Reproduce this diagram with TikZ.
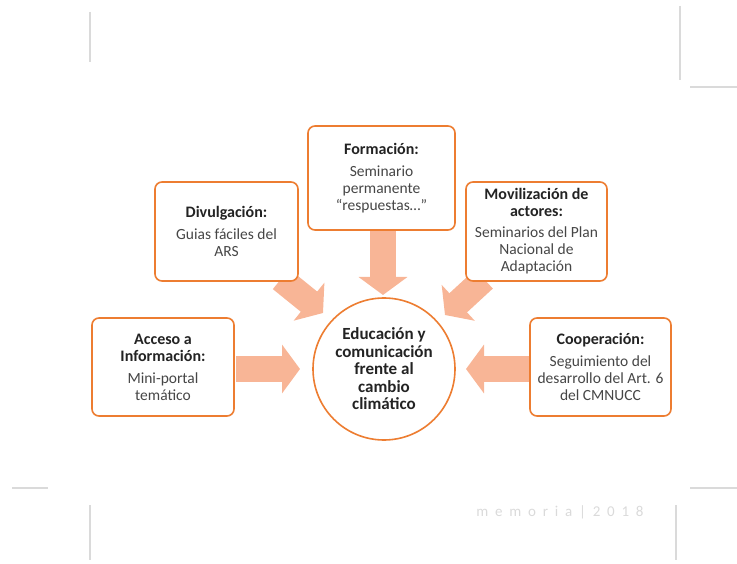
\documentclass[tikz,border=0pt]{standalone}
\usepackage{fontspec}
\setmainfont{Carlito}
\usetikzlibrary{arrows.meta}
\definecolor{boxorange}{RGB}{237,125,49}
\definecolor{arrowsalmon}{RGB}{248,181,150}
\definecolor{titlecol}{RGB}{35,35,35}
\definecolor{bodycol}{RGB}{70,70,70}
\definecolor{ghost}{RGB}{218,218,218}
\tikzset{
  infobox/.style={draw=boxorange, line width=1.6pt, rounded corners=7pt, fill=white,
    align=center, inner sep=1pt, font=\fontsize{15.5}{17}\selectfont, text=bodycol},
  centercircle/.style={circle, draw=boxorange, line width=1.6pt, fill=white,
    minimum size=142pt, align=center, inner sep=0pt,
    font=\fontsize{17}{17.5}\selectfont\bfseries, text=titlecol},
  blockarrow/.style={draw=arrowsalmon, line width=26pt,
    -{Triangle[width=48pt,length=18pt]}},
  ghostline/.style={draw=ghost, line width=1.2pt},
}
\newcommand{\ttl}[1]{{\fontsize{16}{17}\selectfont\bfseries\color{titlecol}#1}}
\begin{document}
\begin{tikzpicture}[x=1pt,y=-1pt]
\useasboundingbox (0,0) rectangle (737,564);
% faint scan ghosts
\draw[ghostline] (90,12) -- (90,62);
\draw[ghostline] (680,6) -- (680,80);
\draw[ghostline] (690,87) -- (737,87);
\draw[ghostline] (12,488) -- (48,488);
\draw[ghostline] (690,488) -- (737,488);
\draw[ghostline] (90,505) -- (90,560);
\draw[ghostline] (676,505) -- (676,560);
\node[text=ghost, font=\fontsize{15}{17}\selectfont] (memo) at (560,512) {m\ \ e\ \ m\ \ o\ \ r\ \ i\ \ a\ \ |\ \ 2\ \ 0\ \ 1\ \ 8};

% block arrows (drawn first, boxes cover their tails)
\coordinate (dstart) at (281,279);
\coordinate (dend) at (323,313);
\coordinate (mstart) at (484,279);
\coordinate (mend) at (445,315);
\coordinate (fstart) at (383,229);
\coordinate (fend) at (383,295);
\coordinate (astart) at (236,369);
\coordinate (aend) at (300,369);
\coordinate (cstart) at (532,369);
\coordinate (cend) at (466,369);
\draw[blockarrow] (fstart) -- (fend);
\draw[blockarrow] (astart) -- (aend);
\draw[blockarrow] (cstart) -- (cend);
\draw[blockarrow] (dstart) -- (dend);
\draw[blockarrow] (mstart) -- (mend);

% boxes
\node[infobox, minimum width=147pt, minimum height=104pt] (form) at (381.5,178)
  {\ttl{Formación:}\\[5pt] Seminario\\ permanente\\ “respuestas…”};
\node[infobox, minimum width=143pt, minimum height=99pt] (div) at (226.5,231.5)
  {\ttl{Divulgación:}\\[5pt] Guias fáciles del\\ ARS};
\node[infobox, minimum width=141pt, minimum height=99pt] (mov) at (536.5,231.5)
  {\ttl{Movilización de}\\ \ttl{actores:}\\[4pt] Seminarios del Plan\\ Nacional de\\ Adaptación};
\node[infobox, minimum width=142pt, minimum height=98pt] (acc) at (163,367)
  {\ttl{Acceso a}\\ \ttl{Información:}\\[5pt] Mini-portal\\ temático};
\node[infobox, minimum width=141pt, minimum height=98pt] (coop) at (600.5,367)
  {\ttl{Cooperación:}\\[5pt] Seguimiento del\\ desarrollo del Art. 6\\ del CMNUCC};
\node[centercircle] (circ) at (384,369)
  {Educación y\\ comunicación\\ frente al\\ cambio\\ climático};
\end{tikzpicture}
\end{document}
